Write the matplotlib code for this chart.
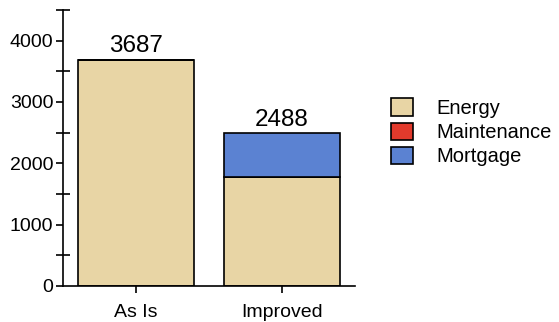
import matplotlib
matplotlib.use("Agg")
import matplotlib.pyplot as plt
import numpy as np

plt.rcParams["font.family"] = ["Liberation Sans", "DejaVu Sans"]

# annual cost breakdown per scenario
scenarios = ["As Is", "Improved"]
energy = [3687, 1770]
maintenance = [0, 0]
mortgage = [0, 718]
totals = [3687, 2488]

colors = {"Energy": "#e8d5a5", "Maintenance": "#e23a2c", "Mortgage": "#5b82d2"}

fig = plt.figure(figsize=(5.59, 3.22), dpi=100)
ax = fig.add_axes([0.113, 0.112, 0.522, 0.857])

x = np.arange(len(scenarios))
bottom = np.zeros(len(scenarios))
for name, vals in [("Energy", energy), ("Maintenance", maintenance), ("Mortgage", mortgage)]:
    ax.bar(x, vals, 0.8, bottom=bottom, color=colors[name], edgecolor="black",
           linewidth=1.2, label=name)
    bottom += np.array(vals)

for xi, t in zip(x, totals):
    ax.text(xi, t + 120, str(t), ha="center", va="baseline", fontsize=17.5)

ax.set_xlim(-0.5, 1.5)
ax.set_ylim(0, 4500)
ax.set_xticks(x)
ax.set_xticklabels(scenarios, fontsize=14)
ax.set_yticks([0, 1000, 2000, 3000, 4000])
ax.set_yticks(np.arange(500, 5000, 1000), minor=True)
ax.tick_params(axis="y", labelsize=14, length=5, width=1.2, pad=2)
ax.tick_params(axis="y", which="minor", direction="inout", length=10, width=1.2)
ax.tick_params(axis="x", length=5, width=1.2, pad=8)
ax.spines["top"].set_visible(False)
ax.spines["right"].set_visible(False)
for s in ("left", "bottom"):
    ax.spines[s].set_linewidth(1.2)

fig.legend(loc="center left", bbox_to_anchor=(0.667, 0.589), frameon=False,
           fontsize=14.5, handlelength=1.1, handleheight=0.95, labelspacing=0.22,
           handletextpad=1.15)

fig.savefig("out.png", dpi=100)
